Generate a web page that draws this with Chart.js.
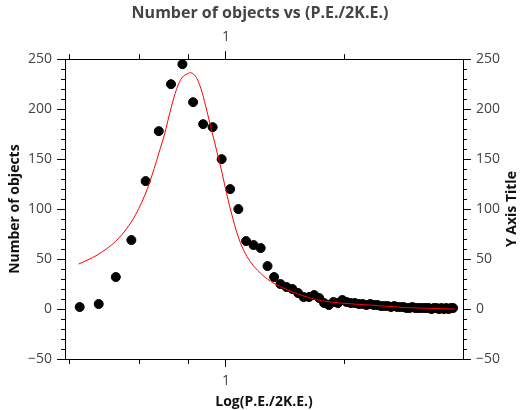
<!DOCTYPE html>
<html>
<head>
<meta charset="utf-8">
<script src="https://cdn.jsdelivr.net/npm/chart.js@4/dist/chart.umd.min.js"></script>
<style>
  body { margin: 0; background: #fff; }
  #wrap { width: 520px; height: 410px; }
</style>
</head>
<body>
<div id="wrap"><canvas id="objectsChart"></canvas></div>
<script>
// bin centres of P.E./2K.E. and the counts
var binCentres = [0.425, 0.475, 0.525, 0.575, 0.625, 0.675, 0.725, 0.775, 0.825, 0.875,
    0.925, 0.975, 1.025, 1.075, 1.125, 1.175, 1.225, 1.275, 1.325, 1.375,
    1.425, 1.475, 1.525, 1.575, 1.625, 1.675, 1.725, 1.775, 1.825, 1.875,
    1.925, 1.975, 2.025, 2.075, 2.125, 2.175, 2.225, 2.275, 2.325, 2.375,
    2.425, 2.475, 2.525, 2.575, 2.625, 2.675, 2.725, 2.775, 2.825, 2.875,
    2.925, 2.975, 3.025, 3.075, 3.125, 3.175, 3.225, 3.275, 3.325, 3.375,
    3.425, 3.475, 3.525, 3.575, 3.625, 3.675, 3.725, 3.775];
var counts = [2, 5, 32, 69, 128, 178, 225, 245, 207, 185,
    182, 150, 120, 100, 68, 64, 61, 43, 32, 25,
    22, 20, 16, 12, 12, 14, 11, 6, 4, 7,
    6, 9, 7, 6, 6, 5, 5, 4, 5, 4,
    4, 3, 3, 3, 2, 3, 2, 2, 2, 1,
    1, 2, 1, 1, 1, 1, 1, 1, 0, 1,
    1, 0, 1, 0, 1, 0, 1, 1];

// fitted curve (red)
var fitX = [0.4225, 0.4707, 0.5236, 0.5607, 0.5886, 0.6121, 0.6324, 0.6489, 0.6653, 0.6812,
    0.6971, 0.7109, 0.7251, 0.7393, 0.7537, 0.7731, 0.8037, 0.8116, 0.8441, 0.8692,
    0.8951, 0.9215, 0.9488, 0.9768, 1.0058, 1.0356, 1.0664, 1.1083, 1.1526, 1.2224,
    1.2954, 1.3736, 1.4566, 1.6368, 1.7689, 1.9505, 2.3236, 2.852, 3.819];
var fitY = [45, 54, 67.5, 81, 94, 107.5, 121, 134, 147.5, 161,
    174, 187.5, 201, 213, 223, 231.5, 236, 236.5, 230.5, 217,
    197.5, 177.5, 157, 136.5, 114, 94, 76, 59, 47.5, 36,
    28, 22.5, 18, 11, 8, 6, 4, 1.5, 0];

// axes
var xMin = 0.39, xMax = 4.0;
var xMajorTicks = [1];
var xMinorTicks = [0.4, 0.6, 0.8, 2];
var yMin = -50, yMax = 250, yMajorStep = 50, yMinorStep = 10;
var rightTitle = 'Y Axis Title';

var textColor = '#444';
var fontFamily = '"Open Sans", "Noto Sans", sans-serif';

var points = binCentres.map(function(x, i) { return { x: x, y: counts[i] }; });
var fit = fitX.map(function(x, i) { return { x: x, y: fitY[i] }; });

// draws the short minor ticks that Chart.js can't size separately,
// and the right axis title which reads bottom-to-top like the left one
var extras = {
    id: 'extras',
    afterDraw: function(chart) {
        var ctx = chart.ctx;
        var s = chart.scales;
        ctx.save();
        ctx.strokeStyle = '#000';
        ctx.lineWidth = 1;
        ctx.beginPath();
        for (var v = yMin; v <= yMax; v += yMinorStep) {
            if (v % yMajorStep === 0) continue;
            var py = Math.round(s.y.getPixelForValue(v)) + 0.5;
            ctx.moveTo(s.y.right - 4, py);
            ctx.lineTo(s.y.right, py);
            ctx.moveTo(s.y2.left, py);
            ctx.lineTo(s.y2.left + 4, py);
        }
        xMinorTicks.forEach(function(v) {
            var px = Math.round(s.x.getPixelForValue(v)) + 0.5;
            ctx.moveTo(px, s.x.top);
            ctx.lineTo(px, s.x.top + 5);
            ctx.moveTo(px, s.x2.bottom - 5);
            ctx.lineTo(px, s.x2.bottom);
        });
        ctx.stroke();

        var area = chart.chartArea;
        ctx.translate(s.y2.right - 8, (area.top + area.bottom) / 2);
        ctx.rotate(-Math.PI / 2);
        ctx.fillStyle = '#111';
        ctx.font = 'bold 14px ' + fontFamily;
        ctx.textAlign = 'center';
        ctx.textBaseline = 'middle';
        ctx.fillText(rightTitle, 0, 0);
        ctx.restore();
    }
};

function logAxis(position, title) {
    return {
        type: 'logarithmic',
        position: position,
        min: xMin,
        max: xMax,
        afterBuildTicks: function(scale) {
            scale.ticks = xMajorTicks.map(function(v) { return { value: v }; });
        },
        afterFit: function(scale) {
            scale.height = position === 'bottom' ? 51 : 32;
        },
        ticks: {
            color: textColor,
            padding: 6,
            font: { family: fontFamily, size: 14 },
            callback: function(v) { return String(v); }
        },
        grid: { drawOnChartArea: false, tickLength: 8, tickColor: '#000' },
        border: { display: true, color: '#000', width: 1 },
        title: {
            display: !!title,
            text: title,
            color: '#111',
            padding: { top: 0, bottom: 0 },
            font: { family: fontFamily, size: 14, weight: 'bold' }
        }
    };
}

function linAxis(position, title, width) {
    return {
        type: 'linear',
        position: position,
        min: yMin,
        max: yMax,
        afterFit: function(scale) { scale.width = width; },
        ticks: {
            stepSize: yMajorStep,
            color: textColor,
            padding: 5,
            font: { family: fontFamily, size: 14 },
            callback: function(v) { return v < 0 ? '\u2212' + Math.abs(v) : String(v); }
        },
        grid: { drawOnChartArea: false, tickLength: 8, tickColor: '#000' },
        border: { display: true, color: '#000', width: 1 },
        title: {
            display: !!title,
            text: title,
            color: '#111',
            padding: { top: 7, bottom: 0 },
            font: { family: fontFamily, size: 14, weight: 'bold' }
        }
    };
}

new Chart(document.getElementById('objectsChart').getContext('2d'), {
    type: 'scatter',
    data: {
        datasets: [{
            label: 'Fit',
            data: fit,
            showLine: true,
            borderColor: '#ff0000',
            borderWidth: 1,
            pointRadius: 0,
            cubicInterpolationMode: 'monotone',
            order: 0
        }, {
            label: 'Number of objects',
            data: points,
            backgroundColor: '#000',
            borderColor: '#000',
            pointRadius: 4.5,
            order: 1
        }]
    },
    options: {
        responsive: true,
        maintainAspectRatio: false,
        animation: false,
        layout: { padding: 0 },
        scales: {
            x: logAxis('bottom', 'Log(P.E./2K.E.)'),
            x2: logAxis('top', ''),
            y: linAxis('left', 'Number of objects', 65),
            y2: linAxis('right', '', 57)
        },
        plugins: {
            legend: { display: false },
            tooltip: { enabled: false },
            title: {
                display: true,
                text: 'Number of objects vs (P.E./2K.E.)',
                color: textColor,
                padding: { top: 4, bottom: 4 },
                font: { family: fontFamily, size: 16, weight: 'bold', lineHeight: 1.2 }
            }
        }
    },
    plugins: [extras]
});
</script>
</body>
</html>
